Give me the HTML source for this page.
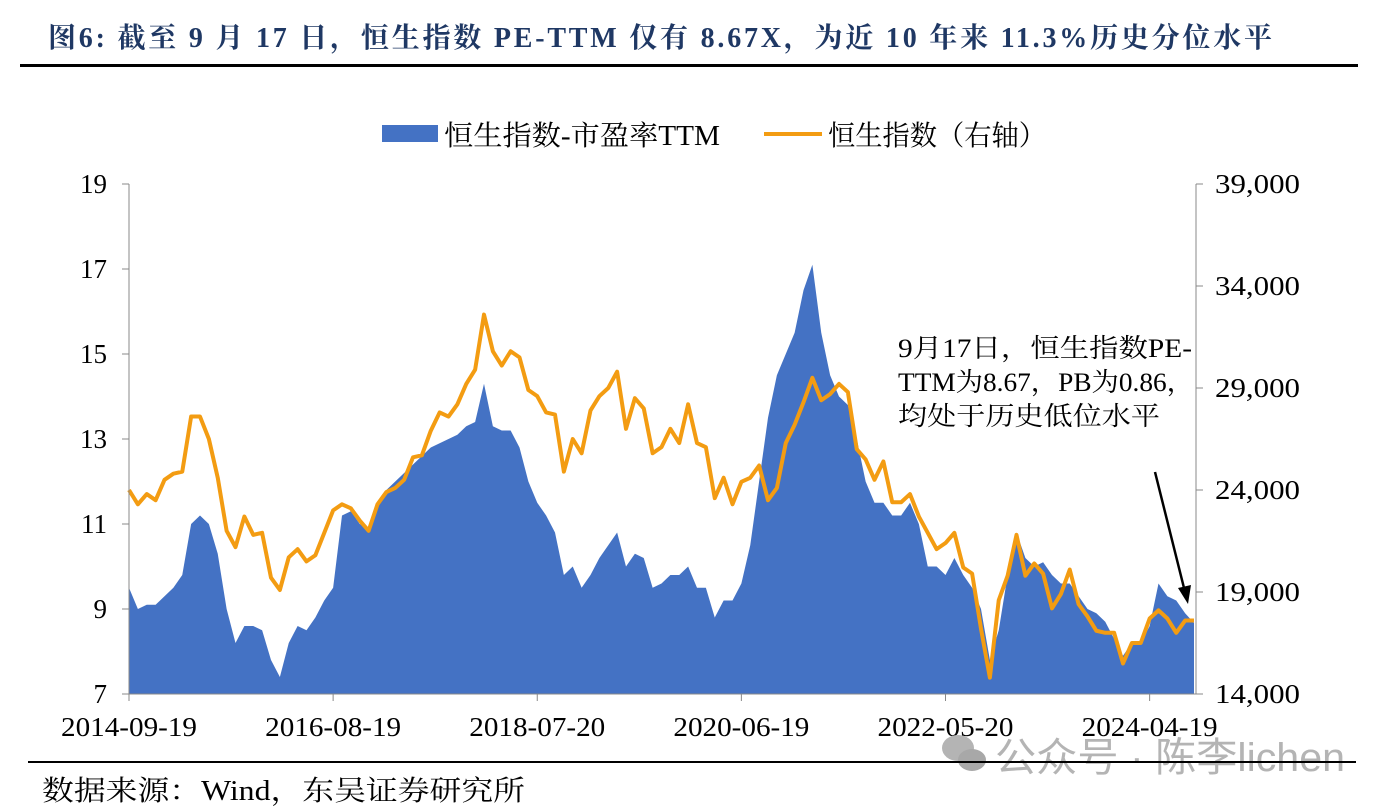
<!DOCTYPE html>
<html><head><meta charset="utf-8">
<style>
body{margin:0;background:#fff;width:1388px;height:812px;overflow:hidden}
svg{display:block}
text{font-family:"Liberation Serif","Noto Serif CJK SC","Noto Sans CJK SC",serif}
</style></head>
<body>
<svg id="chart" width="1388" height="812">
<text x="48" y="47" font-size="28" font-weight="bold" fill="#1f3864" textLength="1224" lengthAdjust="spacing">图6:  截至 9 月 17 日，恒生指数 PE-TTM 仅有 8.67X，为近 10 年来 11.3%历史分位水平</text>
<line x1="20" y1="65.5" x2="1358" y2="65.5" stroke="#000" stroke-width="3"/>
<g>
<rect x="382" y="125" width="56" height="17" fill="#4472c4"/>
<text x="444" y="145" font-size="28" textLength="276" lengthAdjust="spacingAndGlyphs">恒生指数-市盈率TTM</text>
<line x1="764" y1="134" x2="822" y2="134" stroke="#f39c12" stroke-width="4"/>
<text x="828" y="145" font-size="28" textLength="218" lengthAdjust="spacingAndGlyphs">恒生指数（右轴）</text>
</g>
<g id="plot"></g>
<text x="898" y="357" font-size="26" textLength="294" lengthAdjust="spacingAndGlyphs">9月17日，恒生指数PE-</text>
<text x="898" y="391" font-size="26" textLength="296" lengthAdjust="spacingAndGlyphs">TTM为8.67，PB为0.86，</text>
<text x="898" y="425" font-size="26" textLength="262" lengthAdjust="spacingAndGlyphs">均处于历史低位水平</text>
<line x1="1155" y1="472" x2="1185" y2="592" stroke="#000" stroke-width="2.5"/>
<polygon points="1188,604 1178,588 1191,585" fill="#000"/>
<text x="995" y="771" font-size="40" fill="#b4b4b4" textLength="350" lengthAdjust="spacingAndGlyphs" style="font-family:'Liberation Sans','Noto Sans CJK SC',sans-serif">公众号 · 陈李lichen</text>
<g><ellipse cx="958" cy="748" rx="16" ry="13" fill="#b4b4b4"/><ellipse cx="972" cy="760" rx="14" ry="11" fill="#a8a8a8"/></g>
<line x1="28" y1="762" x2="1356" y2="762" stroke="#000" stroke-width="2"/>
<text x="42" y="800" font-size="28" textLength="483" lengthAdjust="spacingAndGlyphs">数据来源：Wind，东吴证券研究所</text>
</svg>
<script>
const peValues=[9.5,9.0,9.1,9.1,9.3,9.5,9.8,11.0,11.2,11.0,10.3,9.0,8.2,8.6,8.6,8.5,7.8,7.4,8.2,8.6,8.5,8.8,9.2,9.5,11.2,11.3,11.0,10.9,11.4,11.8,12.0,12.2,12.4,12.6,12.8,12.9,13.0,13.1,13.3,13.4,14.3,13.3,13.2,13.2,12.8,12.0,11.5,11.2,10.8,9.8,10.0,9.5,9.8,10.2,10.5,10.8,10.0,10.3,10.2,9.5,9.6,9.8,9.8,10.0,9.5,9.5,8.8,9.2,9.2,9.6,10.5,12.0,13.5,14.5,15.0,15.5,16.5,17.1,15.5,14.5,14.0,13.8,13.0,12.0,11.5,11.5,11.2,11.2,11.5,11.0,10.0,10.0,9.8,10.2,9.8,9.5,9.0,7.8,8.5,9.8,10.8,10.2,10.0,10.1,9.8,9.6,9.6,9.3,9.0,8.9,8.7,8.3,7.9,8.2,8.2,8.6,9.6,9.3,9.2,8.9,8.67];
const indexValues=[24000,23300,23800,23500,24500,24800,24900,27600,27600,26500,24600,22000,21200,22700,21800,21900,19700,19100,20700,21100,20500,20800,21900,23000,23300,23100,22500,22000,23300,23900,24100,24500,25600,25700,26900,27800,27600,28200,29200,29900,32600,30800,30100,30800,30500,28900,28600,27800,27700,24900,26500,25800,27900,28600,29000,29800,27000,28500,28000,25800,26100,27000,26300,28200,26300,26100,23600,24600,23300,24400,24600,25200,23500,24100,26300,27200,28300,29500,28400,28700,29200,28800,26000,25500,24500,25400,23400,23400,23800,22700,21900,21100,21400,21900,20200,19900,17200,14800,18600,19800,21800,19800,20400,19900,18200,18900,20100,18400,17800,17100,17000,17000,15500,16500,16500,17700,18100,17700,17000,17600,17600];
const leftTicks=[7,9,11,13,15,17,19];
const rightTicks=[14000,19000,24000,29000,34000,39000];
const xTickLabels=["2014-09-19","2016-08-19","2018-07-20","2020-06-19","2022-05-20","2024-04-19"];
const xTickMonths=[0,23,46,69,92,115];

const L=129,R=1196,T=184,B=694;
const n=peValues.length;
const xs=i=>L+(R-2-L)*i/(n-1);
const yL=v=>B-(v-7)/(19-7)*(B-T);
const yR=v=>B-(v-14000)/(39000-14000)*(B-T);
const NS="http://www.w3.org/2000/svg";
const g=document.getElementById('plot');
function mk(tag,attrs){const e=document.createElementNS(NS,tag);for(const k in attrs)e.setAttribute(k,attrs[k]);g.appendChild(e);return e;}

let d=`M${xs(0)},${B}`;
peValues.forEach((v,i)=>{d+=` L${xs(i)},${yL(v)}`;});
d+=` L${xs(n-1)},${B} Z`;
const area=mk('path',{d:d,fill:'#4472c4'});



const line=mk('polyline',{points:indexValues.map((v,i)=>xs(i)+','+yR(v)).join(' '),fill:'none',stroke:'#f39c12','stroke-width':4,'stroke-linejoin':'round'});



const ax1=mk('line',{x1:L,y1:T,x2:L,y2:B,stroke:'#888'});


const ax2=mk('line',{x1:R,y1:T,x2:R,y2:B,stroke:'#888'});


const ax3=mk('line',{x1:L,y1:B,x2:R,y2:B,stroke:'#888'});



leftTicks.forEach(v=>{
  const y=yL(v);
  mk('line',{x1:L-7,y1:y,x2:L,y2:y,stroke:'#888'});
  const t=mk('text',{x:L-22,y:y+9,'font-size':27,'text-anchor':'end'});
  t.textContent=v;
  
  
});
rightTicks.forEach(v=>{
  const y=yR(v);
  mk('line',{x1:R,y1:y,x2:R+7,y2:y,stroke:'#888'});
  const t=mk('text',{x:R+19,y:y+9,'font-size':27,textLength:85,lengthAdjust:'spacingAndGlyphs'});
  t.textContent=v.toLocaleString('en-US');
  
  
});
xTickLabels.forEach((s,k)=>{
  const x=xs(xTickMonths[k]);
  mk('line',{x1:x,y1:B,x2:x,y2:B+7,stroke:'#888'});
  const t=mk('text',{x:x,y:B+42,'font-size':27,'text-anchor':'middle',textLength:136,lengthAdjust:'spacingAndGlyphs'});
  t.textContent=s;
  
  
});
</script>
</body></html>
